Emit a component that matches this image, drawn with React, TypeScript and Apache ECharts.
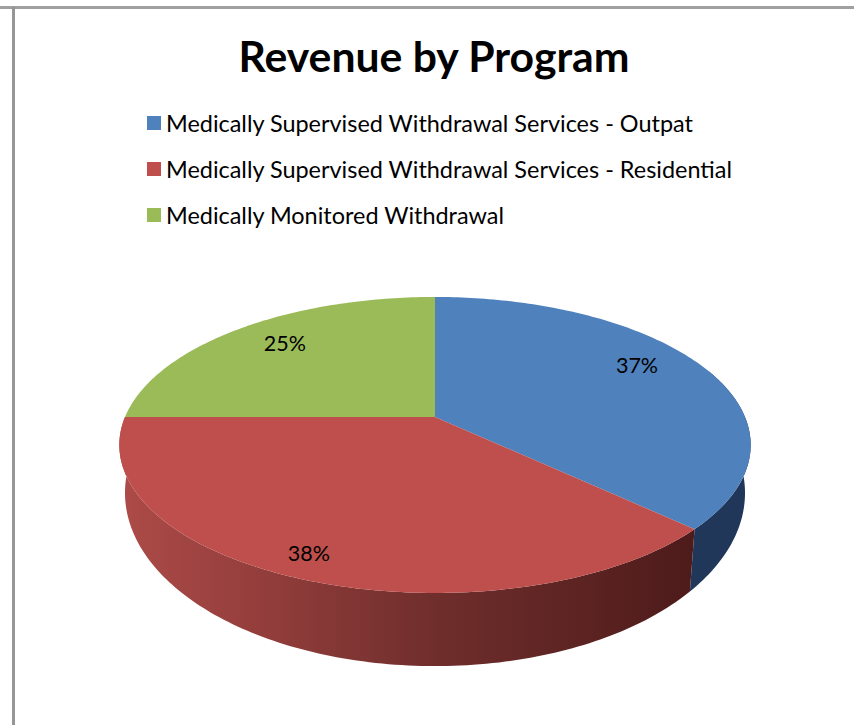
import React, { useEffect, useRef } from "react";
import * as echarts from "echarts";

const TITLE = "Revenue by Program";
const categories = [
  "Medically Supervised Withdrawal Services - Outpat",
  "Medically Supervised Withdrawal Services - Residential",
  "Medically Monitored Withdrawal",
];
const shares = [37, 38, 25];
const percentLabels = ["37%", "38%", "25%"];

const TOP_COLORS = ["#4f81bd", "#be4f4c", "#9bbb59"];
const FONT = "Lato, Carlito, sans-serif";
const LABEL_STYLE = [
  { r: 0.75, dx: 0, dy: -12 },
  { r: 0.85, dx: -12, dy: 3 },
  { r: 0.77, dx: 3, dy: -4 },
];
const SIDE_RANGE_LIMIT = { from: 70, to: 270 };

// Tilted disc: a circle seen in perspective.
const CX = 435;
const CY = 417;
const RX = 310;
const RY = 142.7;
const PERSP = 0.189;
const MID_Y = 445;
const BOTTOM_MID_Y = 493;
const BOTTOM_SCALE_X = 0.982;
const BOTTOM_SCALE_Y = 1.17;

function project(theta: number, r = 1): [number, number] {
  const t = (theta * Math.PI) / 180;
  const X = r * Math.sin(t);
  const Y = r * Math.cos(t);
  const d = 1 + PERSP * Y;
  return [CX + (RX * X) / d, CY - (RY * Y) / d];
}

function lower(p: [number, number]): [number, number] {
  return [CX + (p[0] - CX) * BOTTOM_SCALE_X, BOTTOM_MID_Y + (p[1] - MID_Y) * BOTTOM_SCALE_Y];
}

function arc(a: number, b: number): [number, number][] {
  const n = Math.max(2, Math.ceil(Math.abs(b - a)));
  const pts: [number, number][] = [];
  for (let i = 0; i <= n; i++) pts.push(project(a + ((b - a) * i) / n));
  return pts;
}

function sideFill(i: number) {
  if (i === 1) {
    return new echarts.graphic.LinearGradient(0, 0, 1, 0, [
      { offset: 0, color: "#ad4b48" },
      { offset: 0.3, color: "#8d3b39" },
      { offset: 0.55, color: "#6f2e2c" },
      { offset: 1, color: "#4d1b1a" },
    ]);
  }
  return "#20375a";
}

function renderSlice(i: number) {
  return (_params: any, api: any) => {
    const total = shares.reduce((s, v) => s + v, 0);
    const before = shares.slice(0, i).reduce((s, v) => s + v, 0);
    const start = (before / total) * 360;
    const end = start + (Number(api.value(0)) / total) * 360;
    const children: any[] = [];

    const sFrom = Math.max(start, SIDE_RANGE_LIMIT.from);
    const sTo = Math.min(end, SIDE_RANGE_LIMIT.to);
    if (sTo > sFrom) {
      const rim = arc(sFrom, sTo);
      children.push({
        type: "polygon",
        shape: { points: [...rim, ...rim.slice().reverse().map(lower)] },
        style: { fill: sideFill(i) },
      });
    }
    children.push({
      type: "polygon",
      shape: { points: [[CX, CY], ...arc(start, end)] },
      style: { fill: TOP_COLORS[i] },
    });
    const mid = (start + end) / 2;
    const lp = project(mid, LABEL_STYLE[i].r);
    children.push({
      type: "text",
      x: lp[0] + LABEL_STYLE[i].dx,
      y: lp[1] + LABEL_STYLE[i].dy,
      style: {
        text: percentLabels[i],
        fill: "#000",
        fontFamily: FONT,
        fontSize: 21.5,
        align: "center",
        verticalAlign: "middle",
      },
    });
    return { type: "group", children };
  };
}

export default function App() {
  const ref = useRef<HTMLDivElement>(null);
  useEffect(() => {
    const chart = echarts.init(ref.current!, undefined, { renderer: "svg" });
    chart.setOption({
      animation: false,
      backgroundColor: "#fff",
      title: {
        text: TITLE,
        left: 429,
        top: 29,
        textAlign: "center",
        textStyle: { fontFamily: FONT, fontSize: 42.7, fontWeight: "bold", color: "#000" },
      },
      legend: {
        orient: "vertical",
        left: 147,
        top: 109,
        padding: 0,
        icon: "rect",
        itemWidth: 14,
        itemHeight: 14,
        itemGap: 18,
        data: categories,
        textStyle: { fontFamily: FONT, fontSize: 23.45, color: "#000", lineHeight: 28 },
      },
      graphic: [
        { type: "rect", shape: { x: 0, y: 6, width: 854, height: 3 }, style: { fill: "#a0a0a0" } },
        { type: "rect", shape: { x: 12, y: 7, width: 3, height: 718 }, style: { fill: "#969696" } },
      ],
      series: categories.map((name, i) => ({
        type: "custom",
        name,
        coordinateSystem: "none",
        itemStyle: { color: TOP_COLORS[i] },
        data: [[shares[i]]],
        renderItem: renderSlice(i),
      })),
    });
    return () => chart.dispose();
  }, []);
  return <div ref={ref} style={{ position: "absolute", left: 0, top: 0, width: 854, height: 725 }} />;
}
